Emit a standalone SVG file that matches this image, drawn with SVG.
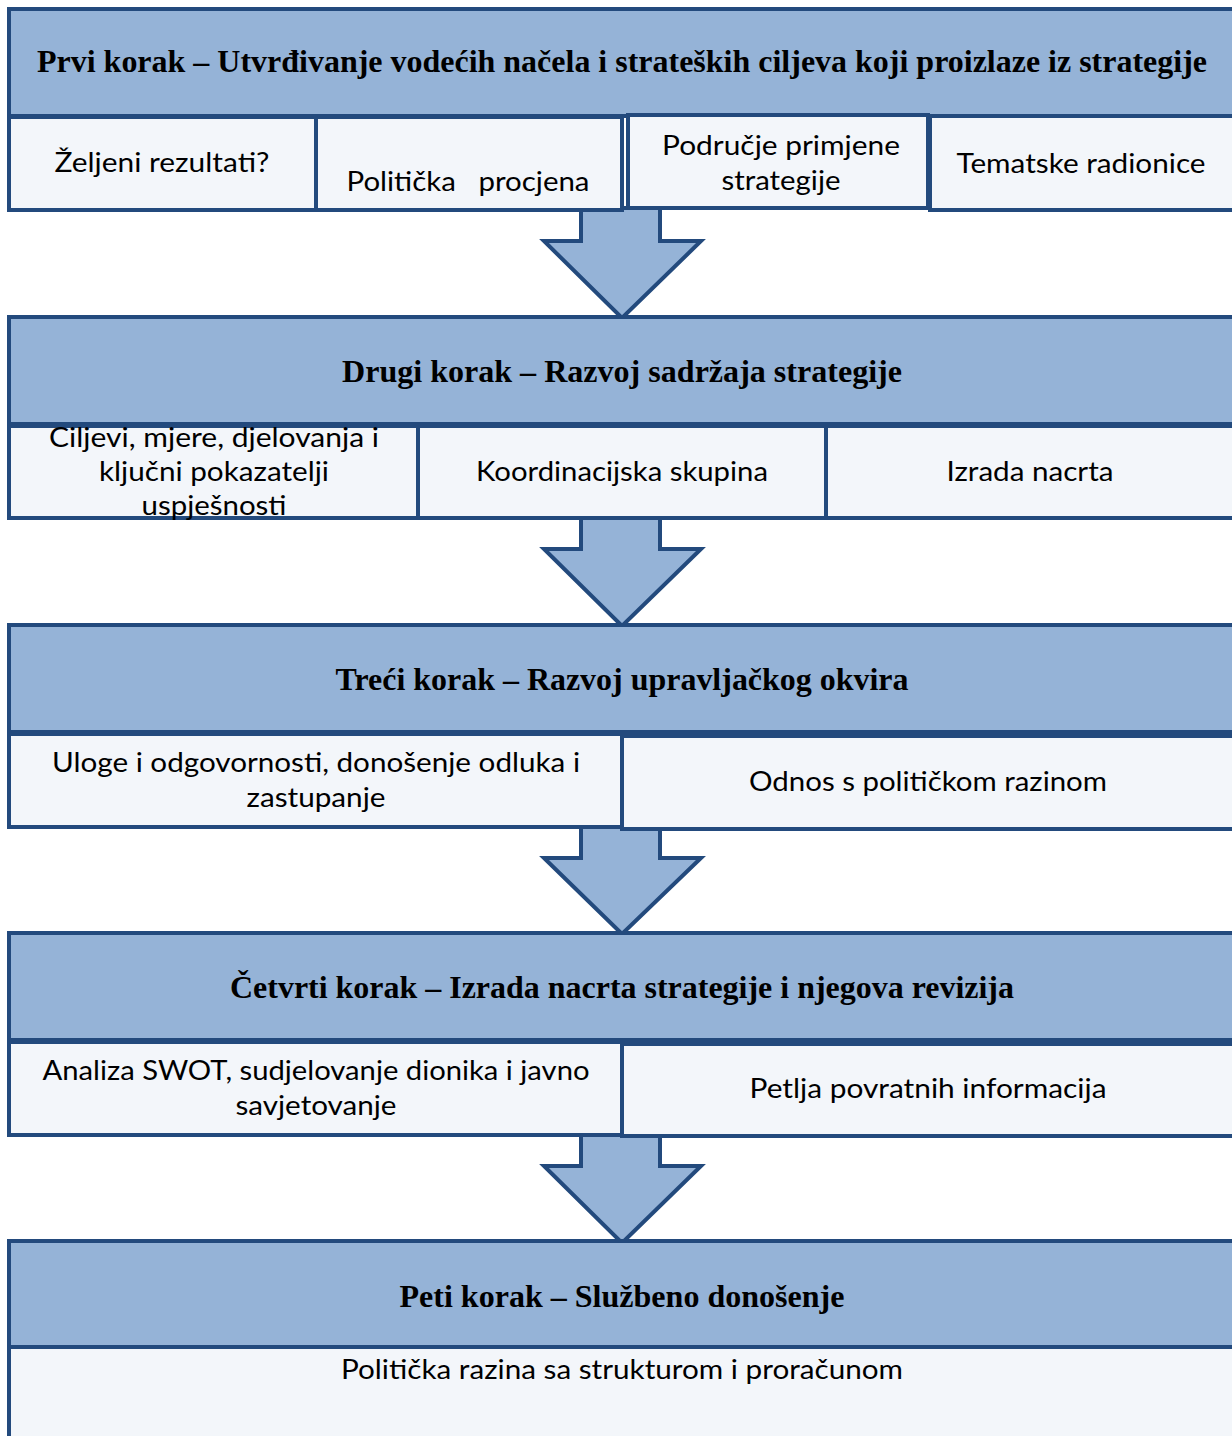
<svg xmlns="http://www.w3.org/2000/svg" width="1232" height="1436" viewBox="0 0 1232 1436">
<style>
.hd{fill:#95B3D7;stroke:#234A7D;stroke-width:4}
.sb{fill:#F3F6FA;stroke:#234A7D;stroke-width:4}
.ar{fill:#95B3D7;stroke:#234A7D;stroke-width:4;stroke-linejoin:miter}
.ht{font-family:"Liberation Serif","Times New Roman",serif;font-weight:bold;font-size:31px;fill:#000;text-anchor:middle}
.st{font-family:Lato,"Liberation Sans",sans-serif;font-size:27px;fill:#000;text-anchor:middle}
</style>
<rect width="1232" height="1436" fill="#fff"/>
<g id="connectors">
<polygon class="ar" points="581,208 660,208 660,241 701,241 622,318 544,241 581,241"/>
<polygon class="ar" points="581,516 660,516 660,549 701,549 622,626 544,549 581,549"/>
<polygon class="ar" points="581,827 660,827 660,858 701,858 622,934 544,858 581,858"/>
<polygon class="ar" points="581,1134 660,1134 660,1166 701,1166 622,1243 544,1166 581,1166"/>
</g>
<g id="step1">
<rect class="hd" x="9" y="9" width="1240" height="107"/>
<text class="ht" x="622" y="72" textLength="1170" lengthAdjust="spacingAndGlyphs">Prvi korak – Utvrđivanje vodećih načela i strateških ciljeva koji proizlaze iz strategije</text>
</g>
<g id="s1a"><rect class="sb" x="9" y="117" width="307" height="93"/><text class="st" x="162" y="172" textLength="215" lengthAdjust="spacingAndGlyphs">Željeni rezultati?</text></g>
<g id="s1b"><rect class="sb" x="316" y="117" width="306" height="93"/><text class="st" x="468" y="191" textLength="243" lengthAdjust="spacingAndGlyphs" xml:space="preserve">Politička   procjena</text></g>
<g id="s1c"><rect class="sb" x="628" y="115" width="300" height="93"/><text class="st" x="781" y="155" textLength="238" lengthAdjust="spacingAndGlyphs">Područje primjene</text><text class="st" x="781" y="190" textLength="119" lengthAdjust="spacingAndGlyphs">strategije</text></g>
<g id="s1d"><rect class="sb" x="930" y="116" width="319" height="94"/><text class="st" x="1081" y="173" textLength="249" lengthAdjust="spacingAndGlyphs">Tematske radionice</text></g>
<g id="step2">
<rect class="hd" x="9" y="317" width="1240" height="107"/>
<text class="ht" x="622" y="382" textLength="560" lengthAdjust="spacingAndGlyphs">Drugi korak – Razvoj sadržaja strategije</text>
</g>
<g id="s2a"><rect class="sb" x="9" y="426" width="409" height="92"/><text class="st" x="214" y="447" textLength="330" lengthAdjust="spacingAndGlyphs">Ciljevi, mjere, djelovanja i</text><text class="st" x="214" y="481" textLength="230" lengthAdjust="spacingAndGlyphs">ključni pokazatelji</text><text class="st" x="214" y="515" textLength="145" lengthAdjust="spacingAndGlyphs">uspješnosti</text></g>
<g id="s2b"><rect class="sb" x="418" y="426" width="408" height="92"/><text class="st" x="622" y="481" textLength="292" lengthAdjust="spacingAndGlyphs">Koordinacijska skupina</text></g>
<g id="s2c"><rect class="sb" x="826" y="426" width="423" height="92"/><text class="st" x="1030" y="481" textLength="167" lengthAdjust="spacingAndGlyphs">Izrada nacrta</text></g>
<g id="step3">
<rect class="hd" x="9" y="625" width="1240" height="107"/>
<text class="ht" x="622" y="690" textLength="573" lengthAdjust="spacingAndGlyphs">Treći korak – Razvoj upravljačkog okvira</text>
</g>
<g id="s3a"><rect class="sb" x="9" y="734" width="613" height="93"/><text class="st" x="316" y="772" textLength="528" lengthAdjust="spacingAndGlyphs">Uloge i odgovornosti, donošenje odluka i</text><text class="st" x="316" y="807" textLength="139" lengthAdjust="spacingAndGlyphs">zastupanje</text></g>
<g id="s3b"><rect class="sb" x="622" y="736" width="627" height="93"/><text class="st" x="928" y="791" textLength="358" lengthAdjust="spacingAndGlyphs">Odnos s političkom razinom</text></g>
<g id="step4">
<rect class="hd" x="9" y="933" width="1240" height="107"/>
<text class="ht" x="622" y="998" textLength="784" lengthAdjust="spacingAndGlyphs">Četvrti korak – Izrada nacrta strategije i njegova revizija</text>
</g>
<g id="s4a"><rect class="sb" x="9" y="1042" width="613" height="93"/><text class="st" x="316" y="1080" textLength="547" lengthAdjust="spacingAndGlyphs">Analiza SWOT, sudjelovanje dionika i javno</text><text class="st" x="316" y="1115" textLength="161" lengthAdjust="spacingAndGlyphs">savjetovanje</text></g>
<g id="s4b"><rect class="sb" x="622" y="1044" width="627" height="92"/><text class="st" x="928" y="1098" textLength="357" lengthAdjust="spacingAndGlyphs">Petlja povratnih informacija</text></g>
<g id="step5">
<rect class="hd" x="9" y="1241" width="1240" height="106"/>
<text class="ht" x="622" y="1307" textLength="445" lengthAdjust="spacingAndGlyphs">Peti korak – Službeno donošenje</text>
</g>
<g id="s5a"><rect class="sb" x="9" y="1347" width="1240" height="100"/><text class="st" x="622" y="1379" textLength="562" lengthAdjust="spacingAndGlyphs">Politička razina sa strukturom i proračunom</text></g>
</svg>
